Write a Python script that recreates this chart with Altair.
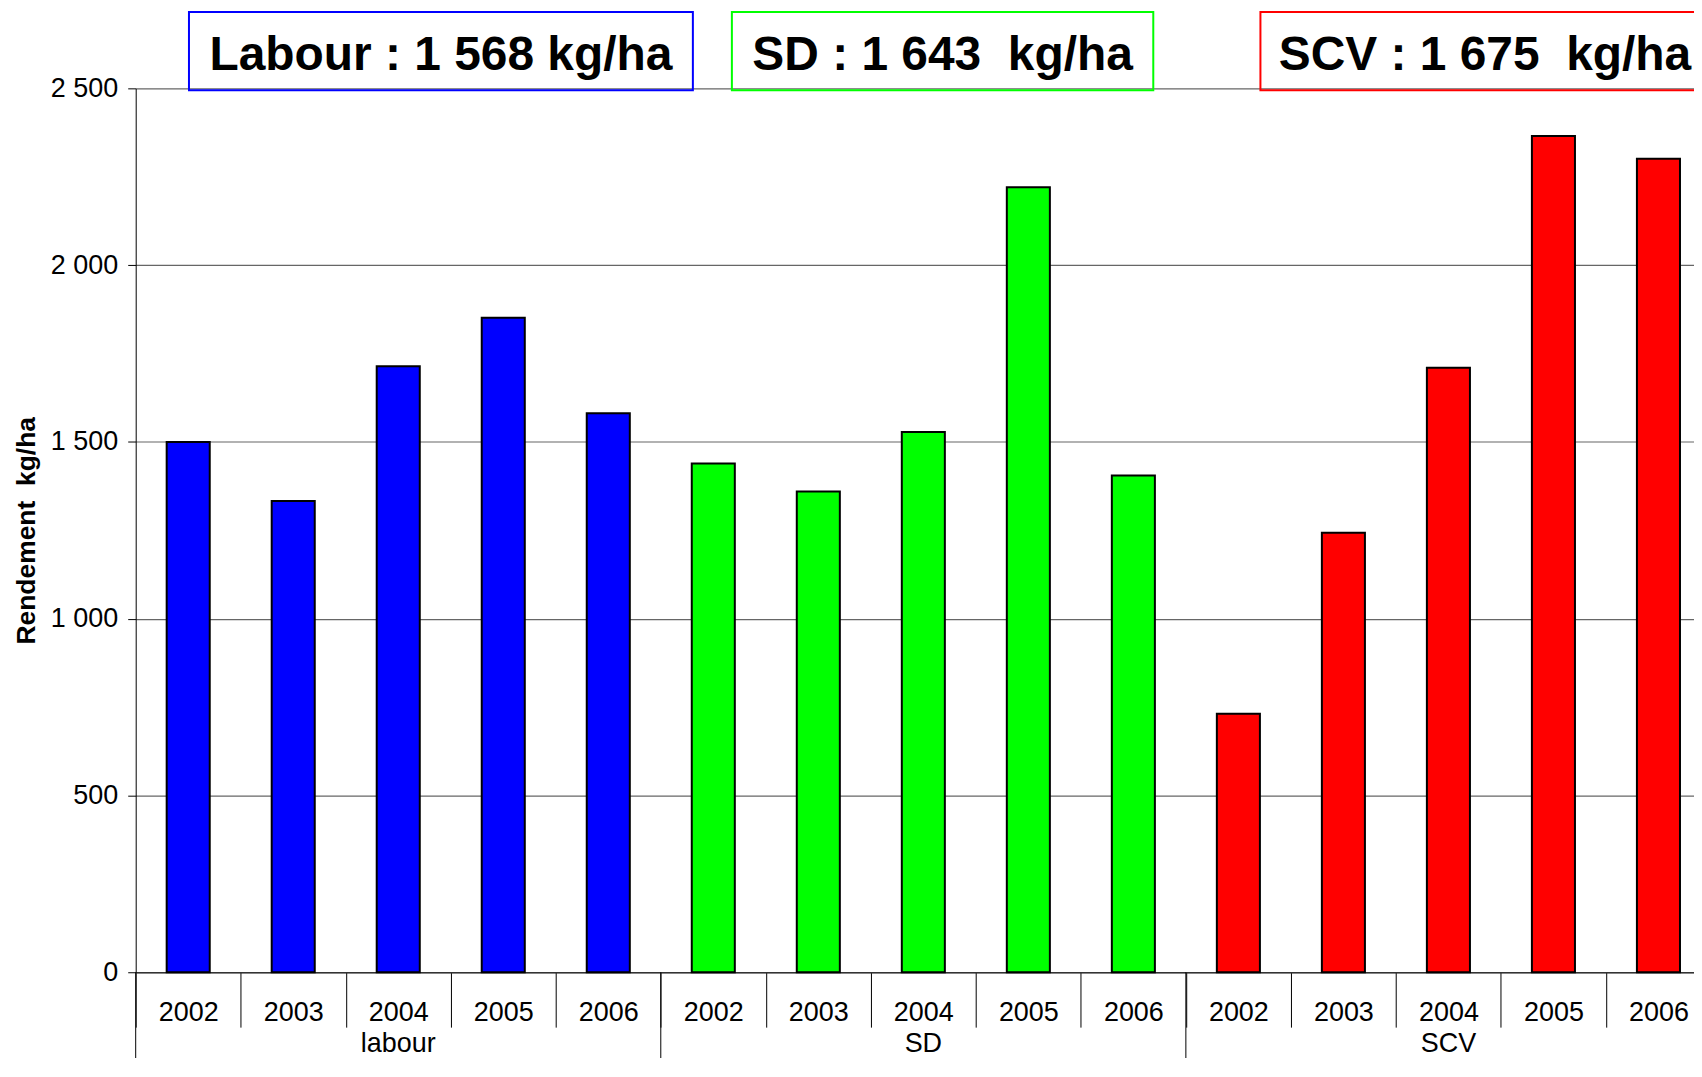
import altair as alt
import pandas as pd

# ---- data ----
groups = ["labour", "SD", "SCV"]
years = ["2002", "2003", "2004", "2005", "2006"]
labour_vals = [1500, 1333, 1714, 1851, 1581]
sd_vals = [1439, 1360, 1528, 2220, 1405]
scv_vals = [731, 1243, 1710, 2365, 2301]
group_colors = ["#0000FF", "#00FF00", "#FF0000"]
y_ticks = [0, 500, 1000, 1500, 2000, 2500]
box_texts = ["Labour : 1 568 kg/ha", "SD : 1 643\u00a0 kg/ha", "SCV : 1 675\u00a0 kg/ha"]

FONT = "Liberation Sans"
H = 886          # plot height
RANGE_W = 1579   # full extent of the category scale (runs past the window edge)
VIEW_W = 1562    # visible width of the view

cats = [f"{g}|{y}" for g in groups for y in years]
df = pd.DataFrame({
    "cat": cats,
    "group": [g for g in groups for _ in years],
    "year": years * len(groups),
    "value": labour_vals + sd_vals + scv_vals,
})
df_groups = pd.DataFrame({
    "group": groups,
    "mid": [f"{g}|{years[2]}" for g in groups],
    "first": [f"{g}|{years[0]}" for g in groups],
})

xscale = alt.Scale(domain=cats, range=[0, RANGE_W], paddingInner=0, paddingOuter=0)
xaxis = alt.Axis(
    title=None, labelExpr="split(datum.label, '|')[1]", labelAngle=0,
    tickBand="extent", tickSize=55, tickColor="black", tickWidth=1,
    labelPadding=-27.5, labelFontSize=27, labelFont=FONT, labelColor="black",
    labelOverlap=False, labelBound=False, labelFlush=False,
    domainColor="#333", domainWidth=1.5, grid=False,
)

bars = alt.Chart(df).mark_bar(
    width=alt.RelativeBandSize(0.41), stroke="black", strokeWidth=2
).encode(
    x=alt.X("cat:N", sort=cats, scale=xscale, axis=xaxis),
    y=alt.Y("value:Q", scale=alt.Scale(domain=[0, 2500], nice=False), axis=alt.Axis(
        values=y_ticks, title="Rendement\u00a0 kg/ha",
        labelExpr="replace(format(datum.value, ','), ',', ' ')",
        labelFontSize=27, labelFont=FONT, labelColor="black", labelPadding=10,
        tickSize=8, tickColor="black", domainColor="black",
        gridColor="#666", gridWidth=1.2,
        titleFont=FONT, titleFontSize=26.5, titleFontWeight="bold", titleColor="black",
        titleAngle=270, titleBaseline="middle", titleX=-109, titleY=443, titleAlign="center",
    )),
    color=alt.Color("group:N", scale=alt.Scale(domain=groups, range=group_colors), legend=None),
)

sep_rules = alt.Chart(df_groups).mark_rule(color="black", strokeWidth=1).encode(
    x=alt.X("first:N", sort=cats, scale=xscale, bandPosition=0, axis=xaxis),
    y=alt.value(H),
    y2=alt.value(H + 120),
)

group_labels = alt.Chart(df_groups).mark_text(
    fontSize=27, font=FONT, color="black", baseline="alphabetic", align="center"
).encode(
    x=alt.X("mid:N", sort=cats, scale=xscale, axis=xaxis),
    y=alt.value(H + 80),
    text="group:N",
)

# annotation boxes (layout positions in pixels relative to the plot area)
box_x = [(53.4, 558.5), (597.6, 1020.0), (1127.4, 1577.6)]
layers = [bars, sep_rules, group_labels]
for (x1, x2), txt, col in zip(box_x, box_texts, group_colors):
    d = pd.DataFrame({"label": [txt]})
    rect = alt.Chart(d).mark_rect(fillOpacity=0, stroke=col, strokeWidth=2).encode(
        x=alt.value(x1), x2=alt.value(x2), y=alt.value(-76.6), y2=alt.value(2.0)
    )
    text = alt.Chart(d).mark_text(
        fontSize=48, font=FONT, fontWeight="bold", color="black",
        align="center", baseline="alphabetic"
    ).encode(x=alt.value((x1 + x2) / 2), y=alt.value(-18.3), text="label:N")
    layers += [rect, text]

chart = alt.layer(*layers).properties(
    width=VIEW_W, height=H,
    padding={"left": 128, "top": 79.3, "right": 0, "bottom": 84.7},
    autosize=alt.AutoSizeParams(type="none"),
    background="white",
).configure_view(stroke=None)

chart.save("out.html", embed_options={"renderer": "svg", "actions": False})
